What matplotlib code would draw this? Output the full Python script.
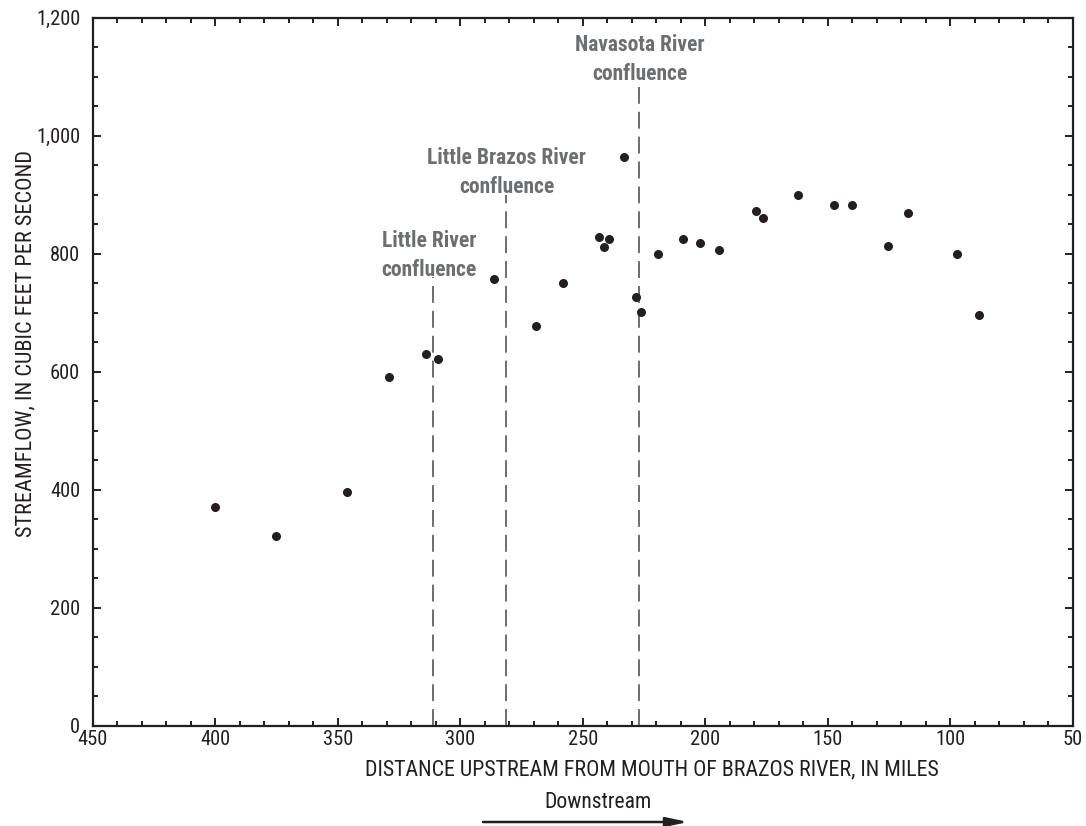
import matplotlib
matplotlib.use("Agg")
import matplotlib.pyplot as plt
from matplotlib.ticker import MultipleLocator, FuncFormatter

plt.rcParams['font.family'] = ['Roboto Condensed', 'Archivo Narrow', 'DejaVu Sans']

# streamflow measurements along the river
distance_mi = [400.0, 375.2, 346.1, 329.1, 314.1, 309.2, 286.1, 269.1, 258.2,
               243.2, 241.3, 239.1, 233.3, 228.2, 226.3, 219.3, 209.2, 202.2,
               194.2, 179.3, 176.4, 162.2, 147.4, 140.2, 125.3, 117.3, 97.3, 88.4]
streamflow_cfs = [370, 321, 396, 590, 629, 622, 756, 677, 750,
                  828, 811, 825, 963, 726, 701, 799, 825, 817,
                  806, 872, 861, 900, 883, 883, 813, 869, 799, 696]

# tributary confluences: position, top of marker line, label
confluence_mi = [311.0, 281.2, 227.2]
confluence_top = [760, 899, 1082]
confluence_names = ['Little River\nconfluence',
                    'Little Brazos River\nconfluence',
                    'Navasota River\nconfluence']
label_x = [312.7, 281.0, 226.6]
label_y = [840, 980, 1172]

GREY = '#6d6e70'
INK = '#231f20'

fig = plt.figure(figsize=(10.86, 8.26), dpi=100)
ax = fig.add_axes([0.08536, 0.12167, 0.90239, 0.85714])

for xc, top in zip(confluence_mi, confluence_top):
    ax.plot([xc, xc], [0, top], color=GREY, lw=1.4, dashes=(8.7, 4.1), zorder=1)
for lx, ly, name in zip(label_x, label_y, confluence_names):
    ax.text(lx, ly, name, ha='center', va='top', color=GREY,
            fontsize=15.5, fontweight='bold', linespacing=1.42)

ax.plot(distance_mi, streamflow_cfs, 'o', color=INK, markersize=6.5,
        markeredgewidth=0, zorder=3)

ax.set_xlim(450, 50)
ax.set_ylim(0, 1200)
ax.xaxis.set_major_locator(MultipleLocator(50))
ax.xaxis.set_minor_locator(MultipleLocator(10))
ax.yaxis.set_major_locator(MultipleLocator(200))
ax.yaxis.set_minor_locator(MultipleLocator(50))
ax.yaxis.set_major_formatter(FuncFormatter(lambda v, p: f'{v:,.0f}'))

ax.tick_params(which='both', direction='in', top=True, right=True,
               color=INK, labelcolor=INK, labelsize=14.8, width=1.4)
ax.tick_params(which='major', length=6)
ax.tick_params(axis='x', which='major', pad=3)
ax.tick_params(axis='y', which='major', pad=9)
ax.tick_params(which='minor', length=3.8)
for s in ax.spines.values():
    s.set_linewidth(1.6)
    s.set_color(INK)

ax.set_xlabel('DISTANCE UPSTREAM FROM MOUTH OF BRAZOS RIVER, IN MILES',
              fontsize=15.8, color=INK, va='center')
ax.xaxis.set_label_coords(0.5707, -0.0632)
ax.set_ylabel('STREAMFLOW, IN CUBIC FEET PER SECOND',
              fontsize=16, color=INK, va='center')
ax.yaxis.set_label_coords(-0.068, 0.539)

fig.text(598 / 1086, 1 - 802.5 / 826, 'Downstream', ha='center', va='center',
         fontsize=15.6, color=INK)
ax.annotate('', xy=(688 / 1086, 1 - 822 / 826), xytext=(483 / 1086, 1 - 822 / 826),
            xycoords='figure fraction', textcoords='figure fraction',
            arrowprops=dict(arrowstyle='-|>,head_length=1.3,head_width=0.28',
                            color=INK, lw=1.8, shrinkA=0, shrinkB=0))

fig.savefig('out.png', dpi=100)
